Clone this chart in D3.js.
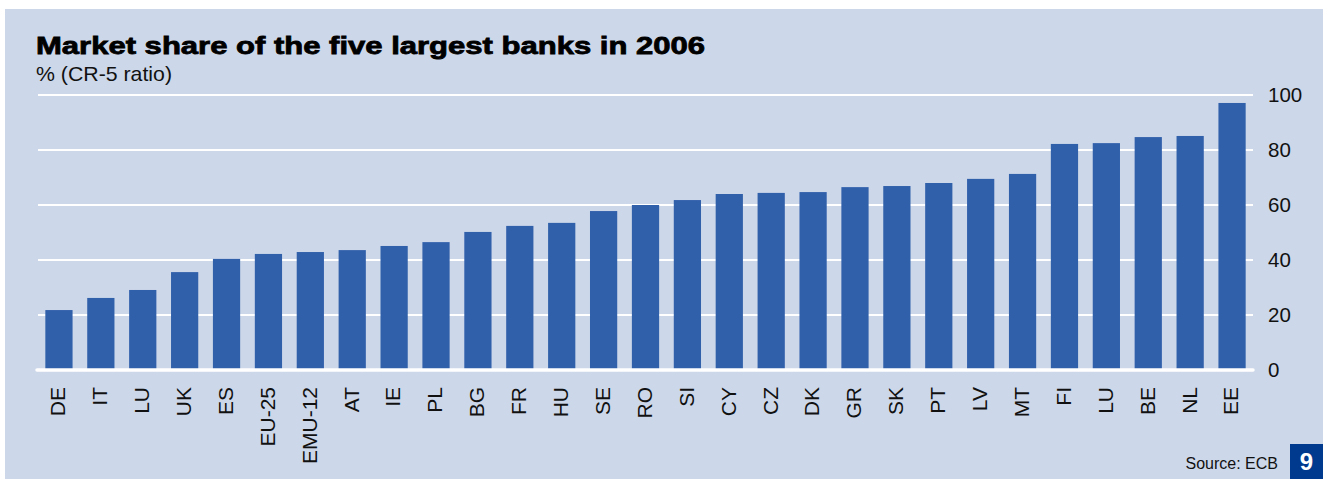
<!DOCTYPE html>
<html>
<head>
<meta charset="utf-8">
<script src="https://cdn.jsdelivr.net/npm/d3@7/dist/d3.min.js"></script>
<style>
  html, body { margin: 0; padding: 0; background: #ffffff; }
  svg { display: block; font-family: "Liberation Sans", Arial, Helvetica, sans-serif; }
</style>
</head>
<body>
<svg id="chart" width="1323" height="479"></svg>
<script>
// CR-5 ratio: share of total banking assets held by the five largest banks, 2006
const countries = ["DE", "IT", "LU", "UK", "ES", "EU-25", "EMU-12", "AT", "IE", "PL",
  "BG", "FR", "HU", "SE", "RO", "SI", "CY", "CZ", "DK", "GR",
  "SK", "PT", "LV", "MT", "FI", "LU", "BE", "NL", "EE"];
const shares = [21.8, 26.2, 29.1, 35.6, 40.4, 42.2, 42.9, 43.6, 45.1, 46.5,
  50.2, 52.4, 53.5, 57.8, 60.0, 61.8, 64.0, 64.4, 64.7, 66.5,
  66.9, 68.0, 69.5, 71.3, 82.2, 82.5, 84.7, 85.1, 97.1];
const yTicks = [0, 20, 40, 60, 80, 100];

const svg = d3.select("#chart");
const W = 1323, H = 479;

// panel background
svg.append("rect").attr("x", 5).attr("y", 9).attr("width", W - 5).attr("height", H - 9)
  .attr("fill", "#ccd7e9");

const plot = { left: 38, right: 1253, top: 95, bottom: 370 };

// one band per category, index-keyed since "LU" appears twice
const x = d3.scaleBand()
  .domain(d3.range(countries.length))
  .range([plot.left, plot.right])
  .paddingInner(0.35)
  .paddingOuter(0.175);

const y = d3.scaleLinear().domain([0, 100]).range([plot.bottom, plot.top]);

// horizontal grid
svg.append("g")
  .selectAll("line")
  .data(yTicks.filter(t => t > 0))
  .join("line")
  .attr("x1", plot.left).attr("x2", plot.right)
  .attr("y1", d => y(d)).attr("y2", d => y(d))
  .attr("stroke", "#ffffff").attr("stroke-width", 2);

// bars
svg.append("g")
  .selectAll("rect")
  .data(shares)
  .join("rect")
  .attr("x", (d, i) => x(i))
  .attr("width", x.bandwidth())
  .attr("y", d => y(d))
  .attr("height", d => y(0) - y(d))
  .attr("fill", "#3160ab");

// baseline
svg.append("line")
  .attr("x1", plot.left - 1).attr("x2", plot.right)
  .attr("y1", y(0)).attr("y2", y(0))
  .attr("stroke", "#ffffff").attr("stroke-width", 3.5)
  .attr("stroke-linecap", "round");

// right-hand value axis
const yAxis = d3.axisRight(y).tickValues(yTicks).tickSize(0).tickPadding(0);
const gy = svg.append("g")
  .attr("transform", `translate(${plot.right + 15},0)`)
  .call(yAxis);
gy.select(".domain").remove();
gy.selectAll("text")
  .attr("font-size", 20.5)
  .attr("fill", "#111111")
  .attr("font-family", "'Liberation Sans', Arial, sans-serif");

// category axis, labels rotated to read upward
const xAxis = d3.axisBottom(x).tickFormat(i => countries[i]).tickSize(0).tickPadding(0);
const gx = svg.append("g")
  .attr("transform", `translate(0,${plot.bottom})`)
  .call(xAxis);
gx.select(".domain").remove();
gx.selectAll("text")
  .attr("font-size", 21)
  .attr("fill", "#111111")
  .attr("font-family", "'Liberation Sans', Arial, sans-serif")
  .attr("text-anchor", "end")
  .attr("dy", "0.35em")
  .attr("transform", "translate(-1,17) rotate(-90)")
  .attr("x", 0).attr("y", 0);

// title and unit
svg.append("text")
  .attr("x", 36).attr("y", 54)
  .attr("font-size", 24.5)
  .attr("font-weight", "bold")
  .attr("fill", "#000000")
  .attr("stroke", "#000000").attr("stroke-width", 0.8)
  .attr("textLength", 669).attr("lengthAdjust", "spacingAndGlyphs")
  .text("Market share of the five largest banks in 2006");

svg.append("text")
  .attr("x", 36).attr("y", 81)
  .attr("font-size", 21)
  .attr("fill", "#111111")
  .attr("textLength", 136).attr("lengthAdjust", "spacingAndGlyphs")
  .text("% (CR-5 ratio)");

// source note and page marker
svg.append("text")
  .attr("x", 1278).attr("y", 469)
  .attr("text-anchor", "end")
  .attr("font-size", 16)
  .attr("fill", "#111111")
  .text("Source: ECB");

svg.append("rect")
  .attr("x", 1290).attr("y", 444).attr("width", W - 1290).attr("height", H - 444)
  .attr("fill", "#003a8f");
svg.append("text")
  .attr("x", 1306.5).attr("y", 470)
  .attr("text-anchor", "middle")
  .attr("font-size", 24)
  .attr("font-weight", "bold")
  .attr("fill", "#ffffff")
  .text("9");
</script>
</body>
</html>
